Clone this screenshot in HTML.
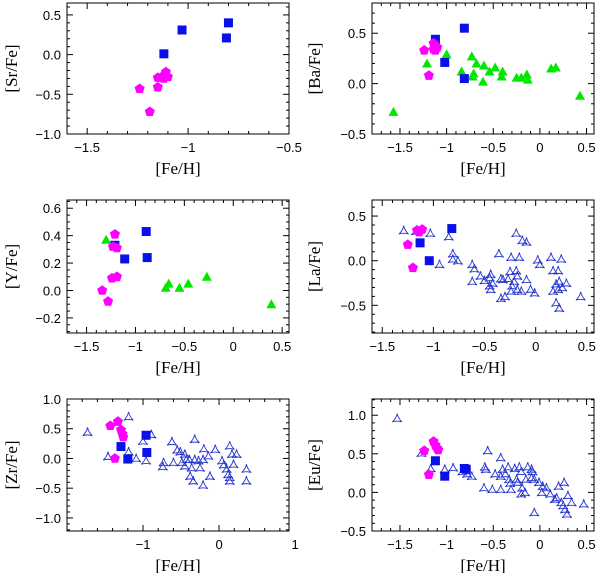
<!DOCTYPE html>
<html><head><meta charset="utf-8">
<style>
html,body{margin:0;padding:0;background:#fff;}
svg{display:block;}
.tl{font-family:"Liberation Sans",sans-serif;font-size:13px;fill:#000;}
.at{font-family:"Liberation Serif",serif;font-size:17px;fill:#000;}
</style></head>
<body>
<svg id="fig" width="600" height="573" viewBox="0 0 600 573" xmlns="http://www.w3.org/2000/svg"></svg>
<script>
// ---- data (x = [Fe/H], y = [X/Fe]) ----
const srBlueX=[-1.12,-1.03,-0.81,-0.80];
const srBlueY=[0.01,0.31,0.21,0.40];
const srMagX=[-1.24,-1.19,-1.15,-1.15,-1.11,-1.12,-1.10,-1.13];
const srMagY=[-0.43,-0.72,-0.41,-0.29,-0.22,-0.30,-0.28,-0.28];

const baBlueX=[-1.12,-1.02,-0.81,-0.81];
const baBlueY=[0.44,0.21,0.55,0.05];
const baMagX=[-1.24,-1.19,-1.14,-1.14,-1.10,-1.12];
const baMagY=[0.33,0.08,0.40,0.34,0.36,0.33];
const baGreenX=[-1.57,-1.21,-1.0,-0.84,-0.73,-0.68,-0.71,-0.72,-0.61,-0.60,-0.54,-0.48,-0.40,-0.41,-0.25,-0.20,-0.14,-0.13,0.12,0.17,0.43];
const baGreenY=[-0.28,0.20,0.29,0.12,0.27,0.20,0.10,0.07,0.02,0.18,0.12,0.16,0.12,0.07,0.06,0.06,0.09,0.04,0.15,0.16,-0.12];

const yBlueX=[-1.21,-1.11,-0.89,-0.88];
const yBlueY=[0.33,0.23,0.43,0.24];
const yMagX=[-1.21,-1.23,-1.19,-1.24,-1.19,-1.19,-1.34,-1.28];
const yMagY=[0.41,0.32,0.31,0.09,0.10,0.10,0.0,-0.08];
const yGreenX=[-1.30,-0.69,-0.66,-0.55,-0.46,-0.27,0.39];
const yGreenY=[0.37,0.02,0.05,0.02,0.05,0.10,-0.10];

const laBlueX=[-1.13,-1.04,-0.82];
const laBlueY=[0.20,0.0,0.36];
const laMagX=[-1.25,-1.20,-1.16,-1.11,-1.14];
const laMagY=[0.18,-0.08,0.34,0.35,0.32];
const laOpenX=[-1.29,-1.03,-0.85,-0.81,-0.81,-0.76,-0.94,-0.62,-0.60,-0.62,-0.54,-0.50,-0.45,-0.44,-0.42,-0.45,-0.44,-0.36,-0.34,-0.32,-0.34,-0.30,-0.24,-0.27,-0.24,-0.25,-0.21,-0.19,-0.18,-0.23,-0.18,-0.16,-0.14,-0.19,-0.13,-0.09,-0.09,-0.05,-0.01,0.02,0.04,0.15,0.17,0.22,0.23,0.25,0.20,0.22,0.20,0.23,0.26,0.30,0.17,0.44,-1.17];
const laOpenY=[0.33,0.30,0.26,0.07,0.01,-0.01,-0.05,-0.05,-0.10,-0.24,-0.18,-0.23,-0.20,-0.16,-0.26,-0.29,-0.33,0.07,-0.21,-0.22,-0.43,-0.41,-0.35,-0.21,0.03,-0.13,-0.24,-0.12,-0.18,-0.29,-0.33,0.03,-0.35,0.30,0.22,0.20,-0.22,-0.33,-0.37,0.0,-0.05,0.03,-0.12,-0.12,-0.24,0.01,-0.27,-0.33,-0.48,-0.54,-0.31,-0.26,-0.35,-0.41,0.32];

const zrBlueX=[-1.29,-1.20,-0.96,-0.95];
const zrBlueY=[0.20,-0.01,0.39,0.10];
const zrMagX=[-1.43,-1.33,-1.29,-1.27,-1.26,-1.37];
const zrMagY=[0.55,0.62,0.48,0.41,0.36,0.0];
const zrOpenX=[-1.73,-1.19,-1.46,-1.19,-1.09,-1.0,-0.89,-0.96,-0.73,-0.74,-0.62,-0.60,-0.55,-0.51,-0.49,-0.45,-0.43,-0.39,-0.36,-0.38,-0.34,-0.32,-0.27,-0.25,-0.20,-0.21,-0.21,-0.14,-0.12,-0.05,0.04,0.06,0.10,0.12,0.14,0.14,0.17,0.19,0.14,0.23,0.36,0.36,-0.32,-0.45];
const zrOpenY=[0.43,0.69,0.02,0.10,-0.01,0.28,0.39,-0.05,-0.08,-0.15,0.27,-0.08,0.13,0.10,-0.08,0.06,-0.03,-0.03,-0.17,-0.31,-0.39,0.31,-0.05,-0.17,0.15,-0.03,-0.46,0.03,-0.31,0.14,-0.05,-0.12,-0.19,-0.28,-0.33,0.20,0.06,-0.11,-0.39,0.06,-0.19,-0.39,-0.03,-0.14];

const euBlueX=[-1.12,-1.02,-0.81,-0.79];
const euBlueY=[0.41,0.21,0.31,0.30];
const euMagX=[-1.24,-1.14,-1.12,-1.10,-1.09,-1.19];
const euMagY=[0.54,0.66,0.61,0.57,0.55,0.23];
const euOpenX=[-1.53,-1.27,-1.17,-1.02,-0.93,-0.83,-0.78,-0.73,-0.56,-0.59,-0.58,-0.60,-0.51,-0.48,-0.42,-0.42,-0.40,-0.37,-0.34,-0.33,-0.32,-0.31,-0.27,-0.25,-0.24,-0.22,-0.20,-0.19,-0.16,-0.15,-0.13,-0.09,-0.08,-0.06,-0.06,-0.01,0.02,0.03,0.07,0.11,0.20,0.18,0.23,0.25,0.27,0.29,0.26,0.30,0.34,0.47,-0.20,-0.42,-0.09,0.16];
const euOpenY=[0.95,0.50,0.30,0.29,0.31,0.26,0.23,0.20,0.53,0.32,0.29,0.05,0.03,0.23,0.44,0.20,0.29,0.23,0.32,0.16,0.11,0.03,0.30,0.16,0.12,0.32,0.26,0.05,-0.01,0.16,0.32,0.29,0.26,-0.27,0.16,0.12,-0.01,0.07,0.05,-0.03,0.07,-0.08,-0.14,-0.18,-0.23,-0.29,0.12,-0.05,-0.14,-0.16,-0.03,0.03,0.18,-0.10];

const srXTicks=[-1.5,-1,-0.5], srYTicks=[0.5,0,-0.5,-1];
const baXTicks=[-1.5,-1,-0.5,0,0.5], baYTicks=[0.5,0,-0.5];
const yXTicks=[-1.5,-1,-0.5,0,0.5], yYTicks=[0.6,0.4,0.2,0,-0.2];
const laXTicks=[-1.5,-1,-0.5,0,0.5], laYTicks=[0.5,0,-0.5];
const zrXTicks=[-1,0,1], zrYTicks=[1,0.5,0,-0.5,-1];
const euXTicks=[-1.5,-1,-0.5,0,0.5], euYTicks=[1,0.5,0,-0.5];

const NS="http://www.w3.org/2000/svg";
const svg=document.getElementById('fig');
function mk(tag,attrs,parent){const e=document.createElementNS(NS,tag);for(const k in attrs)e.setAttribute(k,attrs[k]);(parent||svg).appendChild(e);return e;}
function fmtX(v){return (v<0?'\u2212':'')+String(Math.abs(v));}
function fmtY(v){return (v<0?'\u2212':'')+Math.abs(v).toFixed(1);}

function panel(cfg){
  const g=mk('g',{});
  
  
  const sx=v=>cfg.px0+(v-cfg.xr[0])/(cfg.xr[1]-cfg.xr[0])*(cfg.px1-cfg.px0);
  const sy=v=>cfg.py1-(v-cfg.yr[0])/(cfg.yr[1]-cfg.yr[0])*(cfg.py1-cfg.py0);
  const tk=mk('g',{stroke:'#000','stroke-width':1},g);
  
  
  const eps=1e-6;
  for(let v=Math.ceil(cfg.xr[0]/cfg.xmin-eps)*cfg.xmin; v<=cfg.xr[1]+eps; v+=cfg.xmin){
    const major=Math.abs(v/cfg.xmaj-Math.round(v/cfg.xmaj))<1e-4;
    const L=major?6:3, x=sx(v);
    mk('line',{x1:x,x2:x,y1:cfg.py1,y2:cfg.py1-L},tk);
    mk('line',{x1:x,x2:x,y1:cfg.py0,y2:cfg.py0+L},tk);
  }
  for(let v=Math.ceil(cfg.yr[0]/cfg.ymin-eps)*cfg.ymin; v<=cfg.yr[1]+eps; v+=cfg.ymin){
    const major=Math.abs(v/cfg.ymaj-Math.round(v/cfg.ymaj))<1e-4;
    const L=major?6:3, y=sy(v);
    mk('line',{x1:cfg.px0,x2:cfg.px0+L,y1:y,y2:y},tk);
    mk('line',{x1:cfg.px1,x2:cfg.px1-L,y1:y,y2:y},tk);
  }
  const fr=mk('rect',{x:cfg.px0,y:cfg.py0,width:cfg.px1-cfg.px0,height:cfg.py1-cfg.py0,fill:'none',stroke:'#000','stroke-width':1},g);
  
  
  cfg.xt.forEach(v=>{
    const t=mk('text',{x:sx(v),y:cfg.py1+18,'text-anchor':'middle','class':'tl'},g);
    
    
    t.textContent=fmtX(v);
  });
  cfg.yt.forEach(v=>{
    const t=mk('text',{x:cfg.px0-6,y:sy(v)+5,'text-anchor':'end','class':'tl'},g);
    
    
    t.textContent=fmtY(v);
  });
  const xt=mk('text',{x:(cfg.px0+cfg.px1)/2,y:cfg.py1+40,'text-anchor':'middle','class':'at'},g);
  
  
  xt.textContent='[Fe/H]';
  const yc=(cfg.py0+cfg.py1)/2;
  const yt=mk('text',{x:cfg.ytx,y:yc,'text-anchor':'middle','class':'at',transform:'rotate(-90 '+cfg.ytx+' '+yc+')'},g);
  
  
  yt.textContent=cfg.title;
  if(cfg.openX){cfg.openX.forEach((v,i)=>{
    const x=sx(v),y=sy(cfg.openY[i]),r=5.5;
    const p=[0,1,2].map(k=>{const a=(-90+120*k)*Math.PI/180;return [x+r*Math.cos(a),y+r*Math.sin(a)];});
    const c=[0,1,2].map(k=>{const a=(-30+120*k)*Math.PI/180;return [x+1.2*Math.cos(a),y+1.2*Math.sin(a)];});
    const d='M'+p[0]+' Q'+c[0]+' '+p[1]+' Q'+c[1]+' '+p[2]+' Q'+c[2]+' '+p[0]+'Z';
    const e=mk('path',{d:d,fill:'none',stroke:'#2233cc','stroke-width':0.9},g);
    
    
  });}
  if(cfg.greenX){cfg.greenX.forEach((v,i)=>{
    const x=sx(v),y=sy(cfg.greenY[i]);
    const e=mk('polygon',{points:(x)+','+(y-5)+' '+(x-5)+','+(y+4)+' '+(x+5)+','+(y+4),fill:'#00e800'},g);
    
    
  });}
  cfg.blueX.forEach((v,i)=>{
    const x=sx(v),y=sy(cfg.blueY[i]);
    const e=mk('rect',{x:x-4.5,y:y-4.5,width:9,height:9,fill:'#0a10e8'},g);
    
    
  });
  cfg.magX.forEach((v,i)=>{
    const x=sx(v),y=sy(cfg.magY[i]),r=5.3;
    const pts=[0,1,2,3,4].map(k=>{const a=(-90+72*k)*Math.PI/180;return (x+r*Math.cos(a)).toFixed(2)+','+(y+r*Math.sin(a)).toFixed(2);}).join(' ');
    const e=mk('polygon',{points:pts,fill:'#ff00ff'},g);
    
    
  });
}

const L0=67,L1=289,R0=372,R1=594;
panel({name:'sr',title:'[Sr/Fe]',px0:L0,px1:L1,py0:3,py1:134,xr:[-1.6,-0.5],yr:[-1,0.65],xmaj:0.5,xmin:0.1,ymaj:0.5,ymin:0.1,xt:srXTicks,yt:srYTicks,ytx:17,blueX:srBlueX,blueY:srBlueY,magX:srMagX,magY:srMagY});
panel({name:'ba',title:'[Ba/Fe]',px0:R0,px1:R1,py0:3,py1:134,xr:[-1.8,0.58],yr:[-0.5,0.8],xmaj:0.5,xmin:0.1,ymaj:0.5,ymin:0.1,xt:baXTicks,yt:baYTicks,ytx:320,blueX:baBlueX,blueY:baBlueY,magX:baMagX,magY:baMagY,greenX:baGreenX,greenY:baGreenY});
panel({name:'y',title:'[Y/Fe]',px0:L0,px1:L1,py0:200,py1:333,xr:[-1.7,0.57],yr:[-0.31,0.66],xmaj:0.5,xmin:0.1,ymaj:0.2,ymin:0.05,xt:yXTicks,yt:yYTicks,ytx:17,blueX:yBlueX,blueY:yBlueY,magX:yMagX,magY:yMagY,greenX:yGreenX,greenY:yGreenY});
panel({name:'la',title:'[La/Fe]',px0:R0,px1:R1,py0:200,py1:333,xr:[-1.6,0.57],yr:[-0.81,0.68],xmaj:0.5,xmin:0.1,ymaj:0.5,ymin:0.1,xt:laXTicks,yt:laYTicks,ytx:320,blueX:laBlueX,blueY:laBlueY,magX:laMagX,magY:laMagY,openX:laOpenX,openY:laOpenY});
panel({name:'zr',title:'[Zr/Fe]',px0:L0,px1:L1,py0:399,py1:531,xr:[-2,0.92],yr:[-1.22,1.0],xmaj:1,xmin:0.2,ymaj:0.5,ymin:0.1,xt:zrXTicks,yt:zrYTicks,ytx:17,blueX:zrBlueX,blueY:zrBlueY,magX:zrMagX,magY:zrMagY,openX:zrOpenX,openY:zrOpenY});
panel({name:'eu',title:'[Eu/Fe]',px0:R0,px1:R1,py0:399,py1:531,xr:[-1.8,0.58],yr:[-0.5,1.21],xmaj:0.5,xmin:0.1,ymaj:0.5,ymin:0.1,xt:euXTicks,yt:euYTicks,ytx:320,blueX:euBlueX,blueY:euBlueY,magX:euMagX,magY:euMagY,openX:euOpenX,openY:euOpenY});
</script>
</body></html>
